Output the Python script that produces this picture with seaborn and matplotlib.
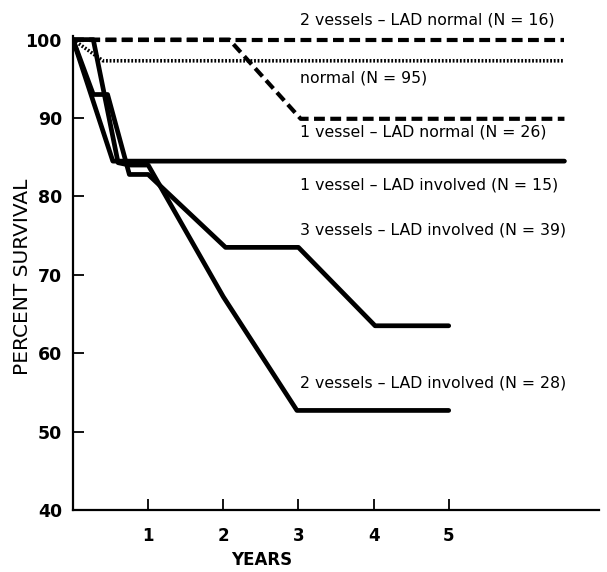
import matplotlib
matplotlib.use("Agg")
import matplotlib.pyplot as plt
import seaborn as sns
import pandas as pd

# ---- data ----
two_v_lad_normal_x = [0, 6.54]
two_v_lad_normal_y = [100, 100]
normal_x = [0, 0.4, 6.54]
normal_y = [100, 97.3, 97.3]
one_v_lad_normal_x = [0, 2.08, 3.03, 6.54]
one_v_lad_normal_y = [100, 100, 89.9, 89.9]
one_v_lad_inv_x = [0, 0.53, 6.54]
one_v_lad_inv_y = [100, 84.5, 84.5]
three_v_lad_inv_x = [0, 0.27, 0.46, 0.75, 1.0, 2.03, 3.0, 4.02, 5.0]
three_v_lad_inv_y = [100, 93, 93, 82.8, 82.8, 73.5, 73.5, 63.5, 63.5]
two_v_lad_inv_x = [0, 0.27, 0.6, 0.75, 1.0, 2.0, 2.98, 5.0]
two_v_lad_inv_y = [100, 100, 84.3, 84.0, 84.0, 67.2, 52.7, 52.7]

labels = ["2 vessels – LAD normal (N = 16)", "normal (N = 95)",
          "1 vessel – LAD normal (N = 26)", "1 vessel – LAD involved (N = 15)",
          "3 vessels – LAD involved (N = 39)", "2 vessels – LAD involved (N = 28)"]
label_y = [102.5, 95.1, 88.2, 81.4, 75.7, 56.2]
label_x = 3.02

x_ticks = [1, 2, 3, 4, 5]
y_ticks = [40, 50, 60, 70, 80, 90, 100]

series = [
    (two_v_lad_normal_x, two_v_lad_normal_y, "dashed"),
    (normal_x, normal_y, "dotted"),
    (one_v_lad_normal_x, one_v_lad_normal_y, "dashed"),
    (one_v_lad_inv_x, one_v_lad_inv_y, "solid"),
    (three_v_lad_inv_x, three_v_lad_inv_y, "solid"),
    (two_v_lad_inv_x, two_v_lad_inv_y, "solid"),
]

sns.set_theme(style="ticks")
plt.rcParams['font.family'] = ['DejaVu Sans']

fig = plt.figure(figsize=(6.07, 5.72), dpi=100)
ax = fig.add_axes([73/607, (572-510)/572, 526/607, (510-35.7)/572])

for xs, ys, style in series:
    df = pd.DataFrame({"x": xs, "y": ys})
    if style == "solid":
        kw = dict(linewidth=3.4, linestyle="-")
    elif style == "dashed":
        kw = dict(linewidth=3.0, dashes=(2.6, 1.3))
    else:
        kw = dict(linewidth=2.6, dashes=(0.5, 0.5))
    sns.lineplot(data=df, x="x", y="y", ax=ax, color="black",
                 sort=False, estimator=None, **kw)

for lab, ly in zip(labels, label_y):
    ax.text(label_x, ly, lab, fontsize=11.3, ha="left", va="center",
            color="black", clip_on=False)

ax.set_xlim(0, 7)
ax.set_ylim(40, 100.5)
ax.set_xticks(x_ticks)
ax.set_yticks(y_ticks)
ax.set_xticklabels([str(t) for t in x_ticks], fontsize=12, fontweight="bold",
                   color="black")
ax.set_yticklabels([str(t) for t in y_ticks], fontsize=12.5, fontweight="bold",
                   color="black")
ax.tick_params(axis="both", direction="in", length=8, width=1.3, color="black")
ax.tick_params(axis="x", pad=12)
ax.tick_params(axis="y", pad=8)
ax.set_xlabel("YEARS", fontsize=12, fontweight="bold", color="black",
              va="center")
ax.xaxis.set_label_coords((262-73)/526, -(560-510)/474.3)
ax.set_ylabel("PERCENT SURVIVAL", fontsize=14.5, color="black", va="center")
ax.yaxis.set_label_coords(-(73-23)/526, (510-277)/474.3)
for s in ["top", "right"]:
    ax.spines[s].set_visible(False)
for s in ["left", "bottom"]:
    ax.spines[s].set_linewidth(1.6)
    ax.spines[s].set_color("black")
ax.grid(False)

fig.savefig("out.png", dpi=100)
